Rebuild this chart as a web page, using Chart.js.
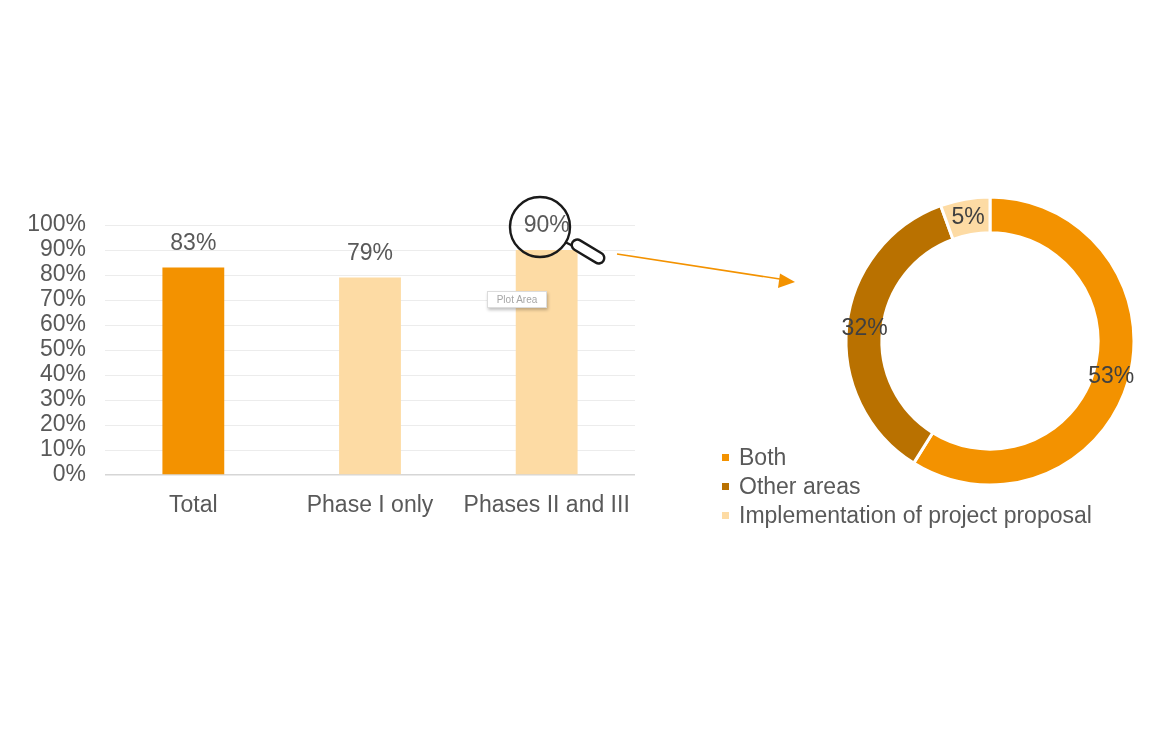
<!DOCTYPE html>
<html>
<head>
<meta charset="utf-8">
<script src="https://cdn.jsdelivr.net/npm/chart.js@4.4.1/dist/chart.umd.min.js"></script>
<style>
  html, body { margin: 0; padding: 0; background: #ffffff; }
  #wrap { position: relative; width: 1170px; height: 730px; overflow: hidden; font-family: "Liberation Sans", Arial, sans-serif; }
  #barBox { position: absolute; left: 0; top: 0; width: 660px; height: 730px; }
  #pieBox { position: absolute; left: 700px; top: 0; width: 470px; height: 730px; }
  #deco { position: absolute; left: 0; top: 0; width: 1170px; height: 730px; pointer-events: none; }
  #legend { position: absolute; left: 722px; top: 443px; }
  .lg { display: flex; align-items: center; height: 29px; font-size: 23px; color: #595959; white-space: nowrap; }
  .lg span.m { display: inline-block; width: 7px; height: 7px; margin-right: 10px; }
  #plotTip { position: absolute; left: 487px; top: 291px; width: 58px; height: 15px; border: 1px solid #dcdcdc; background: #fff;
             box-shadow: 1px 2px 3px rgba(0,0,0,0.25); font-size: 10px; color: #a6a6a6; line-height: 15px; text-align: center; }
</style>
</head>
<body>
<div id="wrap">
  <div id="barBox"><canvas id="bar"></canvas></div>
  <div id="pieBox"><canvas id="pie"></canvas></div>
  <div id="plotTip">Plot Area</div>
  <svg id="deco" width="1170" height="730" viewBox="0 0 1170 730">
    <line x1="617" y1="254" x2="783" y2="279.5" stroke="#F39200" stroke-width="1.6"/>
    <polygon points="795,282 780,273.5 778,288" fill="#F39200"/>
    <circle cx="540" cy="227" r="30" fill="none" stroke="#1a1a1a" stroke-width="2.4"/>
    <line x1="565" y1="242" x2="573" y2="246" stroke="#1a1a1a" stroke-width="2.4"/>
    <rect x="570" y="246" width="36" height="11" rx="5.5" ry="5.5" fill="#ffffff" stroke="#1a1a1a" stroke-width="2.4"
          transform="rotate(31 588 251.5)"/>
  </svg>
  <div id="legend"></div>
</div>
<script>
// ---- data ----
const barCategories = ["Total", "Phase I only", "Phases II and III"];
const barValues = [83, 79, 90];
const barColors = ["#F39200", "#FDDBA4", "#FDDBA4"];
const yTicks = [0, 10, 20, 30, 40, 50, 60, 70, 80, 90, 100];

const pieLabels = ["Both", "Other areas", "Implementation of project proposal"];
const pieValues = [53, 32, 5];
const pieColors = ["#F39200", "#B97100", "#FDDBA4"];

const FONT = "'Liberation Sans', Arial, sans-serif";
const TXT = "#595959";
const FS = 23;

// ---- bar labels plugin ----
const barLabelPlugin = {
  id: 'barLabels',
  afterDatasetsDraw(chart) {
    const ctx = chart.ctx;
    const meta = chart.getDatasetMeta(0);
    ctx.save();
    ctx.font = FS + "px " + FONT;
    ctx.fillStyle = TXT;
    ctx.textAlign = 'center';
    ctx.textBaseline = 'middle';
    meta.data.forEach((el, i) => {
      ctx.fillText(barValues[i] + '%', el.x, el.y - 24);
    });
    ctx.restore();
  }
};

new Chart(document.getElementById('bar'), {
  type: 'bar',
  data: {
    labels: barCategories,
    datasets: [{
      data: barValues,
      backgroundColor: barColors,
      borderWidth: 0,
      barPercentage: 0.35,
      categoryPercentage: 1.0
    }]
  },
  options: {
    responsive: true,
    maintainAspectRatio: false,
    animation: false,
    layout: { padding: { left: 0, right: 25, top: 225, bottom: 0 } },
    plugins: { legend: { display: false }, tooltip: { enabled: false } },
    scales: {
      x: {
        grid: { display: false, drawTicks: false },
        border: { display: false },
        ticks: { color: TXT, font: { size: FS, family: FONT }, padding: 17, maxRotation: 0, autoSkip: false },
        afterFit(s) { s.height = 255; }
      },
      y: {
        min: 0, max: 100,
        afterBuildTicks(s) { s.ticks = yTicks.map(v => ({ value: v })); },
        grid: {
          drawTicks: false,
          color: c => (c.tick && c.tick.value === 0) ? '#d6d6d6' : '#ececec',
          lineWidth: c => (c.tick && c.tick.value === 0) ? 1.5 : 1
        },
        border: { display: false },
        ticks: { color: TXT, font: { size: FS, family: FONT }, padding: 19, autoSkip: false, callback: v => v + '%' },
        afterFit(s) { s.width = 105; }
      }
    }
  },
  plugins: [barLabelPlugin]
});

// ---- doughnut labels plugin ----
const pieLabelPlugin = {
  id: 'pieLabels',
  afterDatasetsDraw(chart) {
    const ctx = chart.ctx;
    const meta = chart.getDatasetMeta(0);
    ctx.save();
    ctx.font = FS + "px " + FONT;
    ctx.fillStyle = '#404040';
    ctx.textAlign = 'center';
    ctx.textBaseline = 'middle';
    meta.data.forEach((arc, i) => {
      const p = arc.getProps(['x', 'y', 'startAngle', 'endAngle', 'innerRadius', 'outerRadius'], true);
      const a = (p.startAngle + p.endAngle) / 2;
      const r = (p.innerRadius + p.outerRadius) / 2;
      ctx.fillText(pieValues[i] + '%', p.x + Math.cos(a) * r, p.y + Math.sin(a) * r + 1);
    });
    ctx.restore();
  }
};

new Chart(document.getElementById('pie'), {
  type: 'doughnut',
  data: {
    labels: pieLabels,
    datasets: [{
      data: pieValues,
      backgroundColor: pieColors,
      borderColor: '#ffffff',
      borderWidth: 3,
      hoverOffset: 0,
      offset: 0
    }]
  },
  options: {
    responsive: true,
    maintainAspectRatio: false,
    animation: false,
    radius: 144,
    cutout: 107,
    layout: { padding: { left: 146, right: 36, top: 197, bottom: 245 } },
    plugins: { legend: { display: false }, tooltip: { enabled: false } }
  },
  plugins: [pieLabelPlugin]
});

// ---- legend (HTML, built from the arrays) ----
const lg = document.getElementById('legend');
pieLabels.forEach((t, i) => {
  const row = document.createElement('div');
  row.className = 'lg';
  const m = document.createElement('span');
  m.className = 'm';
  m.style.background = pieColors[i];
  row.appendChild(m);
  row.appendChild(document.createTextNode(t));
  lg.appendChild(row);
});
</script>
</body>
</html>
